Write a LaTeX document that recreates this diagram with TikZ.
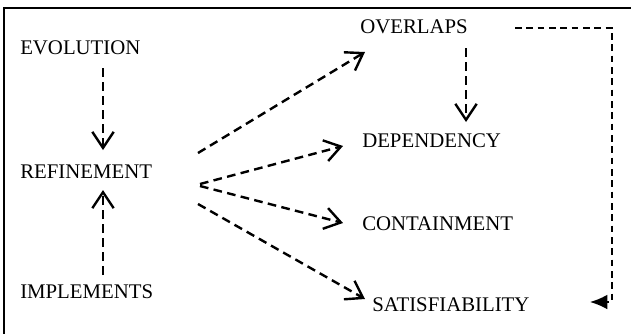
\documentclass[tikz,border=0pt]{standalone}
\usepackage{fontspec}
\setmainfont{Liberation Serif}
\usetikzlibrary{arrows.meta}

\begin{document}
\begin{tikzpicture}[
x=0.75pt, y=-0.75pt,
term/.style={anchor=west, inner sep=0pt, font=\fontsize{15.6}{18}\selectfont},
link/.style={-{Straight Barb[length=12pt, width=16pt]}, line width=1.8pt, dash pattern=on 6.5pt off 4pt},
loopline/.style={-{Latex[length=13pt, width=11pt]}, line width=1.1pt, dash pattern=on 5pt off 3.5pt}
]
\clip (0,0) rectangle (631,333);
\draw[line width=1.3pt] (4,345) |- (645,8);

\node[term] (evol) at (20,48) {EVOLUTION};
\node[term] (refine) at (20,172) {REFINEMENT};
\node[term] (impl) at (20,292) {IMPLEMENTS};
\node[term] (over) at (360,27) {OVERLAPS};
\node[term] (dep) at (362,141) {DEPENDENCY};
\node[term] (cont) at (362,224) {CONTAINMENT};
\node[term] (satis) at (372,305) {SATISFIABILITY};
\coordinate (corner) at (612,28);

\draw[link] ([shift={(83,20)}]evol.west) -- ([shift={(83,-22)}]refine.west);
\draw[link] ([shift={(83,-17)}]impl.west) -- ([shift={(83,18)}]refine.west);
\draw[link] ([shift={(178,-19)}]refine.west) -- ([shift={(5,25)}]over.west);
\draw[link] ([shift={(180,12)}]refine.west) -- ([shift={(-19,5)}]dep.west);
\draw[link] ([shift={(180,14)}]refine.west) -- ([shift={(-19,-1)}]cont.west);
\draw[link] ([shift={(178,32)}]refine.west) -- ([shift={(-7,-6)}]satis.west);
\draw[link] ([shift={(106,21)}]over.west) -- ([shift={(104,-19)}]dep.west);
\draw[loopline] ([shift={(155,1)}]over.west) -- (corner) |- ([shift={(218,-3)}]satis.west);
\end{tikzpicture}
\end{document}
